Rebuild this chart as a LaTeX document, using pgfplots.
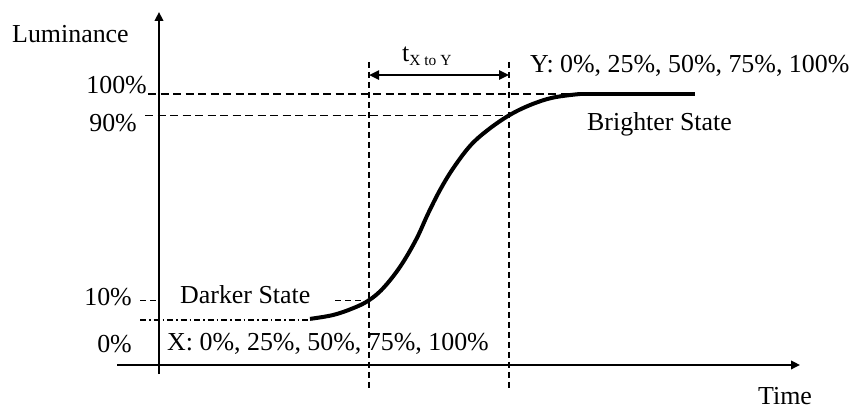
\documentclass[border=0pt]{standalone}
\usepackage{pgfplots}
\pgfplotsset{compat=1.18}
\usepackage{fontspec}
\setmainfont{Liberation Serif}
\usetikzlibrary{arrows.meta}
\tikzset{lab/.style={font=\fontsize{26}{30}\selectfont, inner sep=0pt}}
\begin{document}
\begin{tikzpicture}
\begin{axis}[scale only axis, width=859bp, height=409bp,
  xmin=0, xmax=859, ymin=-39.38, ymax=141.59, hide axis, clip=false]
\path[draw=none] (rel axis cs:0,0) rectangle (rel axis cs:1,1);
% axes
\draw[line width=2bp, -{Triangle[length=9bp,width=8.5bp]}] (axis cs:159,-23.9) -- (axis cs:159,136.3);
\draw[line width=2bp, -{Triangle[length=9bp,width=8.5bp]}] (axis cs:117,-19.9) -- (axis cs:800,-19.9);
% guide lines
\addplot[line width=1.5bp, dash pattern=on 8bp off 4.5bp] coordinates {(148,100) (580,100)};
\addplot[line width=1.5bp, dash pattern=on 8bp off 4.5bp] coordinates {(145,90.4) (509,90.4)};
\addplot[line width=1.5bp, dash pattern=on 6bp off 4bp] coordinates {(140,8.6) (159,8.6)};
\addplot[line width=1.5bp, dash pattern=on 6bp off 4bp] coordinates {(335,8.6) (369,8.6)};
\addplot[line width=1.5bp, dash pattern=on 6bp off 3bp on 1.5bp off 3bp] coordinates {(140,0) (310,0)};
\addplot[line width=1.5bp, dash pattern=on 6bp off 4bp] coordinates {(369,114.2) (369,-31)};
\addplot[line width=1.5bp, dash pattern=on 6bp off 4bp] coordinates {(509,114.2) (509,-31)};
\draw[line width=2.4bp, {Triangle[length=10bp,width=9bp]}-{Triangle[length=10bp,width=9bp]}] (axis cs:369,108.4) -- (axis cs:509,108.4);
% response curve
\addplot[line width=4bp, smooth, tension=0.6] coordinates {
(310,0.5) (333,2.2) (353,5.2) (368.5,8.6) (383,14) (400,23.5) (416,35.5) (428,47)
(440,57.5) (453,67) (470,77) (487,83.8) (508.5,90.4) (530,95.1) (553,98.4) (580,100)};
\addplot[line width=4bp] coordinates {(580,100) (695,100)};
% labels
\node[lab, anchor=base west] at (axis cs:12,123) {Luminance};
\node[lab, anchor=base east] at (axis cs:147,100) {100\%};
\node[lab, anchor=base east] at (axis cs:137,83.2) {90\%};
\node[lab, anchor=base east] at (axis cs:132,6.6) {10\%};
\node[lab, anchor=base east] at (axis cs:132,-14.2) {0\%};
\node[lab, anchor=base west] at (axis cs:180,7.5) {Darker State};
\node[lab, anchor=base west] at (axis cs:167,-13.3) {X: 0\%, 25\%, 50\%, 75\%, 100\%};
\node[lab, anchor=base west] at (axis cs:530,109.4) {Y: 0\%, 25\%, 50\%, 75\%, 100\%};
\node[lab, anchor=base west] at (axis cs:587,83.8) {Brighter State};
\node[lab, anchor=base west] at (axis cs:758,-37.6) {Time};
\node[lab, anchor=base west] at (axis cs:402,114.2) {t\raisebox{-4bp}{\fontsize{15.5}{18}\selectfont X to Y}};
\end{axis}
\end{tikzpicture}
\end{document}
